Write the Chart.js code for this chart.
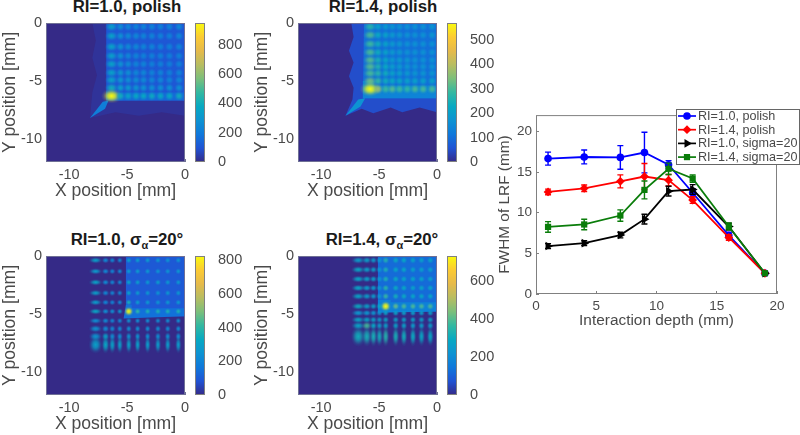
<!DOCTYPE html>
<html lang="en">
<head>
  <meta charset="UTF-8">
  <title>LRF flood maps and FWHM</title>
  <style>
    body { margin: 0; background: #fff; font-family: "Liberation Sans", Arial, sans-serif; }
    #page { position: relative; width: 800px; height: 435px; overflow: hidden; }
    canvas { position: absolute; filter: blur(0.3px); }
    .title {
      position: absolute; width: 200px; text-align: center; white-space: nowrap;
      font-weight: bold; font-size: 16.8px; line-height: 18px; color: #1a1a1a;
    }
    .title sub { font-size: 11px; line-height: 0; }
  </style>
</head>
<body>
  <div id="page">
    <div class="title" style="left:27px;top:-2px">RI=1.0, polish</div>
    <div class="title" style="left:283px;top:-2px">RI=1.4, polish</div>
    <div class="title" style="left:27px;top:231px">RI=1.0, &sigma;<sub>&alpha;</sub>=20&deg;</div>
    <div class="title" style="left:282px;top:231px">RI=1.4, &sigma;<sub>&alpha;</sub>=20&deg;</div>
  </div>

  <script src="https://cdn.jsdelivr.net/npm/chart.js"></script>
  <script>
    // axis ticks
    const heatTicksX = [-10, -5, 0];
    const heatTicksY = [0, -5, -10];
    const lrfTicksX = [0, 5, 10, 15, 20];
    const lrfTicksY = [0, 5, 10, 15, 20];

    // colour bars
    const p1Bar = [0, 200, 400, 600, 800];
    const p2Bar = [0, 100, 200, 300, 400, 500];
    const p3Bar = [0, 200, 400, 600, 800];
    const p4Bar = [0, 200, 400, 600];

    // panel 1: RI=1.0, polish
    const p1Max = 950;
    const p1SpotX = [-6.34, -5.57, -4.91, -4.23, -3.58, -2.86, -2.12, -1.35, -0.52];
    const p1SpotY = [-0.32, -1.12, -2.05, -2.84, -3.54, -4.29, -4.92, -5.59, -6.3];
    const p1Spots = [
      [340, 270, 250, 240, 240, 240, 230, 240, 260],
      [350, 280, 260, 250, 240, 240, 230, 230, 250],
      [350, 290, 260, 250, 240, 240, 230, 230, 240],
      [340, 280, 250, 240, 230, 230, 230, 220, 230],
      [350, 290, 260, 240, 240, 230, 230, 220, 230],
      [350, 300, 280, 250, 250, 240, 240, 230, 240],
      [350, 310, 280, 270, 260, 250, 250, 240, 250],
      [400, 340, 320, 300, 290, 280, 280, 280, 280],
      [950, 400, 360, 380, 380, 390, 380, 380, 400]
    ];
    const p1Ring = [[-8, 0], [-7.7, -1.5], [-8, -3], [-7.6, -4.5], [-8, -6], [-8.2, -8.2], [-6, -7.7], [-4, -8], [-2, -7.7], [0, -8], [0, 0]];
    const p1Plateau = [[-6.8, 0], [-6.8, -6.7], [0, -6.7], [0, 0]];
    const p1Ridge = [[-6.8, -5.9], [-6, -5.9], [-6, -6], [0, -6], [0, -6.7], [-6.8, -6.7]];
    const p1Sliver = [[-6.6, -6.7], [-7.1, -6.8], [-8.2, -8.2], [-6.9, -7.4]];
    const p1Wide = [1.4, 1, 1, 1, 1, 1, 1, 1, 1];

    // panel 2: RI=1.4, polish
    const p2Max = 570;
    const p2SpotX = [-5.77, -5.09, -4.43, -3.86, -3.24, -2.57, -1.91, -1.2, -0.43];
    const p2SpotY = [-0.32, -1.04, -1.81, -2.53, -3.2, -3.77, -4.34, -5, -5.7];
    const p2Spots = [
      [270, 210, 190, 180, 170, 170, 170, 170, 180],
      [300, 230, 210, 190, 180, 170, 170, 170, 180],
      [290, 240, 210, 190, 180, 170, 170, 170, 170],
      [300, 240, 210, 190, 180, 170, 170, 170, 170],
      [310, 250, 220, 190, 190, 180, 170, 170, 170],
      [310, 260, 230, 200, 190, 180, 170, 170, 170],
      [300, 270, 240, 210, 200, 190, 180, 180, 180],
      [330, 280, 240, 230, 220, 210, 210, 210, 210],
      [570, 370, 290, 310, 290, 280, 300, 300, 300]
    ];
    const p2Ring = [[-7.4, 0], [-7.2, -1.2], [-7.6, -2.4], [-7.2, -3.4], [-7.6, -4.6], [-7.2, -5.6], [-7.3, -6.6], [-7.9, -8], [-6.5, -7.4], [-5.5, -7.8], [-4, -7.3], [-3, -7.7], [-1.5, -7.3], [0, -7.7], [0, 0]];
    const p2Plateau = [[-6.3, 0], [-6.4, -6.5], [0, -6.5], [0, 0]];
    const p2Ridge = [[-6.4, -5], [-5.4, -5], [-5.4, -5.4], [0, -5.4], [0, -6.5], [-6.4, -6.5]];
    const p2Sliver = [[-6.2, -6.5], [-6.8, -6.6], [-7.9, -8], [-6.6, -7.2]];
    const p2Wide = [1.4, 1, 1, 1, 1, 1, 1, 1, 1];

    // panel 3: RI=1.0, sigma 20
    const p3Max = 824;
    const p3SpotX = [-7.72, -6.86, -6.28, -5.63, -4.86, -4.09, -3.23, -2.34, -1.49, -0.58];
    const p3SpotY = [-0.37, -1.32, -2.27, -3.19, -4, -4.78, -5.59, -6.28, -6.94, -7.66];
    const p3Spots = [
      [300, 220, 220, 220, 300, 290, 280, 270, 260, 260],
      [280, 220, 210, 220, 280, 280, 270, 260, 260, 270],
      [310, 230, 220, 220, 320, 290, 270, 290, 270, 270],
      [300, 220, 220, 220, 320, 280, 270, 260, 270, 270],
      [290, 210, 210, 220, 360, 280, 270, 260, 270, 270],
      [320, 240, 240, 260, 824, 400, 370, 370, 370, 370],
      [240, 230, 220, 220, 250, 240, 240, 240, 240, 240],
      [250, 230, 230, 230, 240, 240, 240, 240, 230, 230],
      [260, 300, 240, 240, 260, 250, 240, 240, 240, 240],
      [300, 320, 310, 300, 300, 300, 290, 290, 290, 290]
    ];
    const p3Plateau = [[-5.1, 0], [-5.1, -5.2], [0, -5.2], [0, 0]];
    const p3Ridge = [[-5.1, -4.2], [-4.6, -4.2], [-4.6, -4.5], [0, -4.5], [0, -5.2], [-5.3, -5.4]];
    const p3Wide = [2.2, 1.3, 1.1, 1, 1, 1, 1, 1, 1, 1];
    const p3Tall = [1, 1, 1, 1, 1, 1, 1, 1.2, 1.4, 2.8];

    // panel 4: RI=1.4, sigma 20
    const p4Max = 732;
    const p4SpotX = [-6.8, -6.06, -5.49, -4.97, -4.43, -3.57, -2.86, -2.08, -1.34, -0.58];
    const p4SpotY = [-0.37, -1.18, -1.99, -2.76, -3.48, -4.34, -4.92, -5.5, -6.02, -6.94];
    const p4Spots = [
      [260, 270, 250, 240, 340, 300, 290, 280, 270, 280],
      [290, 270, 260, 240, 330, 290, 290, 270, 270, 270],
      [280, 270, 260, 240, 330, 300, 280, 280, 280, 270],
      [280, 260, 250, 240, 350, 300, 290, 270, 280, 280],
      [280, 260, 250, 240, 370, 320, 300, 290, 290, 290],
      [300, 270, 270, 290, 732, 420, 390, 390, 390, 390],
      [240, 240, 230, 220, 270, 270, 260, 260, 260, 260],
      [280, 280, 270, 250, 280, 270, 270, 270, 270, 270],
      [280, 380, 290, 260, 270, 270, 270, 260, 260, 260],
      [310, 320, 320, 310, 340, 320, 310, 300, 290, 290]
    ];
    const p4Plateau = [[-5.1, 0], [-5.1, -4.8], [0, -4.8], [0, 0]];
    const p4Ridge = [[-5.1, -3.8], [-4, -3.8], [-4, -4], [0, -4], [0, -4.8], [-5.1, -4.9]];
    const p4Wide = [2, 1.4, 1.1, 1, 1, 1, 1, 1, 1, 1];
    const p4Tall = [1, 1, 1, 1, 1, 1, 1, 1, 1.2, 2.8];

    // FWHM vs interaction depth
    const depth = [1, 4, 7, 9, 11, 13, 16, 19];
    const seriesNames = ['RI=1.0, polish', 'RI=1.4, polish', 'RI=1.0, sigma=20', 'RI=1.4, sigma=20'];
    const blueFwhm = [16.65, 16.85, 16.8, 17.4, 15.9, 12.45, 7.2, 2.55];
    const blueErr = [0.8, 0.85, 1.45, 2.5, 0.5, 0.5, 0.4, 0.2];
    const redFwhm = [12.55, 13, 13.85, 14.45, 14, 11.55, 6.95, 2.55];
    const redErr = [0.35, 0.4, 0.8, 1.6, 0.7, 0.4, 0.35, 0.2];
    const blackFwhm = [5.9, 6.25, 7.25, 9.2, 12.65, 12.85, 8.3, 2.55];
    const blackErr = [0.3, 0.3, 0.35, 0.6, 0.6, 0.6, 0.4, 0.2];
    const greenFwhm = [8.25, 8.55, 9.65, 12.8, 15.4, 14.2, 8.3, 2.55];
    const greenErr = [0.65, 0.65, 0.7, 1.1, 0.7, 0.45, 0.45, 0.2];

    // parula, coarse
    const parula = ['#352a87', '#2053d4', '#0f78db', '#0d93d2', '#07a9c2', '#33b8a1', '#7cbf7b', '#b8bd61', '#e6ba4a', '#fccb33', '#f9fb0e'];
    const axisGray = '#808080';
    const textGray = '#4a4a4a';

    function parulaAt(t) {
      t = Math.min(Math.max(t, 0), 1) * (parula.length - 1);
      const i = Math.min(Math.floor(t), parula.length - 2);
      const a = parseInt(parula[i].slice(1), 16), b = parseInt(parula[i + 1].slice(1), 16);
      const mix = s => Math.round(((a >> s) & 255) * (1 - t + i) + ((b >> s) & 255) * (t - i));
      return `rgb(${mix(16)},${mix(8)},${mix(0)})`;
    }

    // soft round spot, used as the point image
    const sprites = {};
    function sprite(color, rx, ry) {
      const key = [color, rx.toFixed(1), ry.toFixed(1)].join();
      if (sprites[key]) return sprites[key];
      const c = document.createElement('canvas');
      c.width = Math.ceil(rx * 2);
      c.height = Math.ceil(ry * 2);
      const g = c.getContext('2d');
      g.translate(c.width / 2, c.height / 2);
      g.scale(rx, ry);
      const grad = g.createRadialGradient(0, 0, 0, 0, 0, 1);
      const withAlpha = a => color.replace('rgb', 'rgba').replace(')', ',' + a + ')');
      grad.addColorStop(0, color);
      grad.addColorStop(0.35, withAlpha(0.75));
      grad.addColorStop(0.75, withAlpha(0.15));
      grad.addColorStop(1, withAlpha(0));
      g.fillStyle = grad;
      g.arc(0, 0, 1, 0, Math.PI * 2);
      g.fill();
      sprites[key] = c;
      return c;
    }

    const frame = {
      id: 'frame',
      afterDatasetsDraw(chart, args, opts) {
        const { ctx, chartArea: a } = chart;
        ctx.save();
        ctx.strokeStyle = opts.color || axisGray;
        ctx.lineWidth = 1;
        ctx.strokeRect(a.left + 0.5, a.top + 0.5, a.width - 1, a.height - 1);
        ctx.restore();
      }
    };

    const heatBackground = {
      id: 'heatBackground',
      beforeDatasetsDraw(chart) {
        const { ctx, chartArea: a } = chart;
        ctx.fillStyle = parula[0];
        ctx.fillRect(a.left, a.top, a.width, a.height);
      }
    };

    function newCanvas(left, top, width, height) {
      const c = document.createElement('canvas');
      c.width = width;
      c.height = height;
      c.style.left = left + 'px';
      c.style.top = top + 'px';
      document.getElementById('page').appendChild(c);
      return c;
    }

    function polygon(points, value, max, order) {
      return {
        data: points.map(p => ({ x: p[0], y: p[1] })),
        showLine: true, fill: 'shape', borderWidth: 0, pointRadius: 0, tension: 0,
        backgroundColor: parulaAt(value / max), order
      };
    }

    function heatmap(left, top, cfg) {
      const spots = [];
      cfg.ys.forEach((y, r) => cfg.xs.forEach((x, c) => {
        spots.push({ x, y, v: cfg.spots[r][c], wide: cfg.wide ? cfg.wide[c] : 1, tall: cfg.tall ? cfg.tall[r] : 1 });
      }));
      const datasets = [{
        data: spots, order: 0, pointRadius: 4,
        pointStyle: c => {
          const p = c.raw;
          const boost = 1 + 0.5 * Math.pow(p.v / cfg.max, 3);
          return sprite(parulaAt(p.v / cfg.max), cfg.r * p.wide * boost, cfg.r * p.tall * boost);
        }
      }];
      if (cfg.sliver) datasets.push(polygon(cfg.sliver, cfg.sliverV, cfg.max, 1));
      datasets.push(polygon(cfg.ridge, cfg.ridgeV, cfg.max, 2));
      datasets.push(polygon(cfg.plateau, cfg.plateauV, cfg.max, 3));
      if (cfg.ring) datasets.push(polygon(cfg.ring, cfg.ringV, cfg.max, 4));

      new Chart(newCanvas(left, top, 190, 202), {
        type: 'scatter',
        data: { datasets },
        plugins: [heatBackground, frame],
        options: {
          responsive: false, animation: false, events: [],
          layout: { padding: { top: 23, right: 4 } },
          plugins: { legend: { display: false }, tooltip: { enabled: false }, frame: { color: '#6f7096' } },
          scales: {
            // the x scale would otherwise keep room for half of its last label
            x: heatAxis(heatTicksX, 'X position [mm]', s => { s.height = 40; s.paddingRight = 0; }),
            y: heatAxis(heatTicksY, 'Y position [mm]', s => { s.width = 46; })
          }
        }
      });

      new Chart(newCanvas(left + 190, top, 65, 202), {
        type: 'bar',
        data: {
          labels: [''],
          datasets: [{
            data: [[0, cfg.max]], barPercentage: 1, categoryPercentage: 1,
            borderWidth: 0,
            backgroundColor: c => {
              const a = c.chart.chartArea;
              if (!a) return parula[0];
              const g = c.chart.ctx.createLinearGradient(0, a.bottom, 0, a.top);
              parula.forEach((col, i) => g.addColorStop(i / (parula.length - 1), col));
              return g;
            }
          }]
        },
        plugins: [frame],
        options: {
          responsive: false, animation: false, events: [],
          layout: { padding: { left: 5, bottom: 40, top: 23 } },
          plugins: { legend: { display: false }, tooltip: { enabled: false } },
          scales: {
            x: { display: false },
            y: {
              position: 'right', min: 0, max: cfg.max,
              afterBuildTicks: s => { s.ticks = cfg.bar.map(value => ({ value })); },
              afterFit: s => { s.width = 50; },
              grid: { display: false },
              border: { display: false },
              ticks: { color: textGray, font: { size: 14.5 }, padding: 5 }
            }
          }
        }
      });
    }

    function heatAxis(tickList, label, fit) {
      return {
        min: -12, max: 0,
        afterBuildTicks: s => { s.ticks = tickList.map(value => ({ value })); },
        afterFit: fit,
        grid: { drawOnChartArea: false, tickLength: -3, color: '#6f7096' },
        border: { display: false },
        ticks: { color: textGray, font: { size: 14.5 }, padding: 7, maxRotation: 0 },
        title: { display: true, text: label, color: textGray, font: { size: 17.6 }, padding: 0 }
      };
    }

    heatmap(0, 0, { max: p1Max, bar: p1Bar, xs: p1SpotX, ys: p1SpotY, spots: p1Spots, r: 5, wide: p1Wide,
      ring: p1Ring, ringV: 22, plateau: p1Plateau, plateauV: 105, ridge: p1Ridge, ridgeV: 150, sliver: p1Sliver, sliverV: 210 });
    heatmap(252, 0, { max: p2Max, bar: p2Bar, xs: p2SpotX, ys: p2SpotY, spots: p2Spots, r: 5, wide: p2Wide,
      ring: p2Ring, ringV: 50, plateau: p2Plateau, plateauV: 100, ridge: p2Ridge, ridgeV: 140, sliver: p2Sliver, sliverV: 170 });
    heatmap(0, 233, { max: p3Max, bar: p3Bar, xs: p3SpotX, ys: p3SpotY, spots: p3Spots, r: 3.2, wide: p3Wide, tall: p3Tall,
      plateau: p3Plateau, plateauV: 95, ridge: p3Ridge, ridgeV: 150 });
    heatmap(252, 233, { max: p4Max, bar: p4Bar, xs: p4SpotX, ys: p4SpotY, spots: p4Spots, r: 3.6, wide: p4Wide, tall: p4Tall,
      plateau: p4Plateau, plateauV: 120, ridge: p4Ridge, ridgeV: 170 });

    // Vertical error bars with caps, from each dataset's err array
    const errorBars = {
      id: 'errorBars',
      afterDatasetDraw(chart, args) {
        const ds = chart.data.datasets[args.index];
        const { ctx, scales: { y } } = chart;
        ctx.save();
        ctx.strokeStyle = ds.borderColor;
        ctx.lineWidth = 1.4;
        args.meta.data.forEach((pt, i) => {
          const hi = y.getPixelForValue(ds.data[i].y + ds.err[i]);
          const lo = y.getPixelForValue(ds.data[i].y - ds.err[i]);
          ctx.beginPath();
          ctx.moveTo(pt.x, hi); ctx.lineTo(pt.x, lo);
          ctx.moveTo(pt.x - 3, hi); ctx.lineTo(pt.x + 3, hi);
          ctx.moveTo(pt.x - 3, lo); ctx.lineTo(pt.x + 3, lo);
          ctx.stroke();
        });
        ctx.restore();
      }
    };

    // Legend box hangs over the top right corner of the axes
    const lrfLegend = {
      id: 'lrfLegend',
      afterDraw(chart) {
        const { ctx } = chart;
        ctx.save();
        ctx.fillStyle = '#fff';
        ctx.strokeStyle = '#666';
        ctx.lineWidth = 1;
        ctx.fillRect(180.5, 9.5, 123, 55);
        ctx.strokeRect(180.5, 9.5, 123, 55);
        ctx.font = '12.6px "Liberation Sans", Arial, sans-serif';
        ctx.textBaseline = 'middle';
        chart.data.datasets.forEach((ds, i) => {
          const yy = 16 + i * 13.7;
          ctx.strokeStyle = ds.borderColor;
          ctx.fillStyle = ds.borderColor;
          ctx.lineWidth = 1.7;
          ctx.beginPath();
          ctx.moveTo(182, yy); ctx.lineTo(200, yy);
          ctx.stroke();
          Chart.helpers.drawPoint(ctx, { pointStyle: ds.pointStyle, rotation: ds.pointRotation || 0, radius: ds.pointRadius, borderWidth: 0 }, 191, yy);
          ctx.fillStyle = textGray;
          ctx.fillText(ds.label, 202, yy + 0.5);
        });
        ctx.restore();
      }
    };

    function lrfSeries(i, values, err, color, style, radius, rotation) {
      return {
        label: seriesNames[i],
        data: depth.map((x, k) => ({ x, y: values[k] })),
        err, showLine: true, tension: 0, order: 4 - i,
        borderColor: color, backgroundColor: color, borderWidth: 1.8,
        pointStyle: style, pointRadius: radius, pointRotation: rotation || 0,
        pointBackgroundColor: color, pointBorderColor: color, pointBorderWidth: 0
      };
    }

    new Chart(newCanvas(496, 100, 304, 230), {
      type: 'scatter',
      data: {
        datasets: [
          lrfSeries(0, blueFwhm, blueErr, '#0000ff', 'circle', 3.8),
          lrfSeries(1, redFwhm, redErr, '#ff0000', 'rectRot', 4.4),
          lrfSeries(2, blackFwhm, blackErr, '#000000', 'triangle', 5, 90),
          lrfSeries(3, greenFwhm, greenErr, '#0a7d0a', 'rect', 4.4)
        ]
      },
      plugins: [errorBars, frame, lrfLegend],
      options: {
        responsive: false, animation: false, events: [],
        layout: { padding: { top: 14, right: 23 } },
        plugins: { legend: { display: false }, tooltip: { enabled: false } },
        scales: {
          x: {
            min: 0, max: 20,
            afterBuildTicks: s => { s.ticks = lrfTicksX.map(value => ({ value })); },
            afterFit: s => { s.height = 36; s.paddingRight = 0; },
            grid: { drawOnChartArea: false, tickLength: -3, color: axisGray },
            border: { display: false },
            ticks: { color: textGray, font: { size: 13.5 }, padding: 7, maxRotation: 0 },
            title: { display: true, text: 'Interaction depth (mm)', color: textGray, font: { size: 15.4 }, padding: 0 }
          },
          y: {
            min: 0, max: 22,
            afterBuildTicks: s => { s.ticks = lrfTicksY.map(value => ({ value })); },
            afterFit: s => { s.width = 40; },
            grid: { drawOnChartArea: false, tickLength: -3, color: axisGray },
            border: { display: false },
            ticks: { color: textGray, font: { size: 13.5 }, padding: 7 },
            title: { display: true, text: 'FWHM of LRF (mm)', color: textGray, font: { size: 15.4 }, padding: 0 }
          }
        }
      }
    });
  </script>
</body>
</html>
